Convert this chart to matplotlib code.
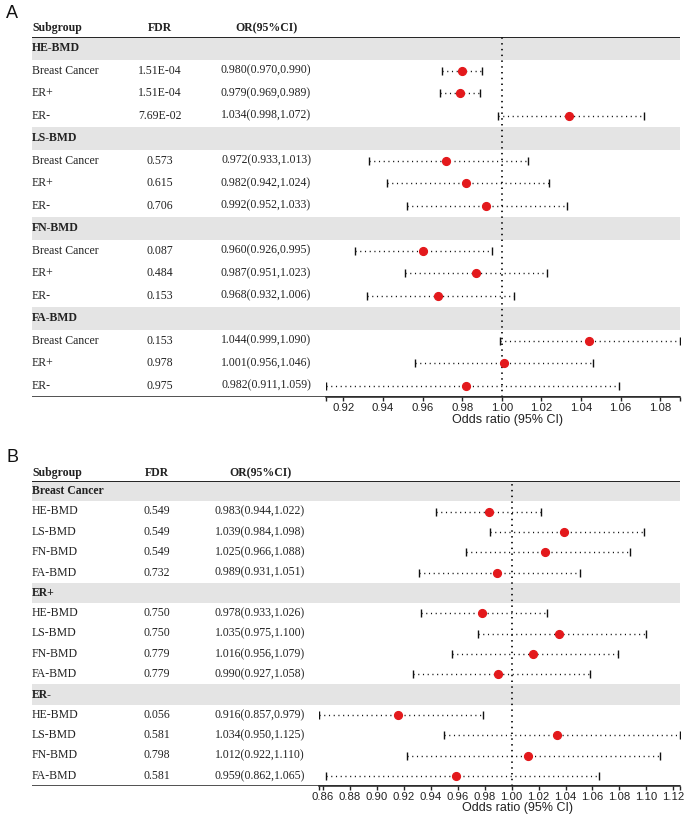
#!/usr/bin/env python3
import matplotlib

matplotlib.use("Agg")
import matplotlib.pyplot as plt
from matplotlib.transforms import blended_transform_factory

W, H = 685, 816

# panel A: BMD trait -> breast cancer subtype
groups_a = ["HE-BMD", "LS-BMD", "FN-BMD", "FA-BMD"]
subs_a = ["Breast Cancer", "ER+", "ER-"]
fdr_a = ["1.51E-04", "1.51E-04", "7.69E-02", "0.573", "0.615", "0.706",
         "0.087", "0.484", "0.153", "0.153", "0.978", "0.975"]
or_a = [0.980, 0.979, 1.034, 0.972, 0.982, 0.992, 0.960, 0.987, 0.968, 1.044, 1.001, 0.982]
lo_a = [0.970, 0.969, 0.998, 0.933, 0.942, 0.952, 0.926, 0.951, 0.932, 0.999, 0.956, 0.911]
hi_a = [0.990, 0.989, 1.072, 1.013, 1.024, 1.033, 0.995, 1.023, 1.006, 1.090, 1.046, 1.059]
ticks_a = [0.92, 0.94, 0.96, 0.98, 1.00, 1.02, 1.04, 1.06, 1.08]

# panel B: breast cancer subtype -> BMD trait
groups_b = ["Breast Cancer", "ER+", "ER-"]
subs_b = ["HE-BMD", "LS-BMD", "FN-BMD", "FA-BMD"]
fdr_b = ["0.549", "0.549", "0.549", "0.732", "0.750", "0.750", "0.779", "0.779",
         "0.056", "0.581", "0.798", "0.581"]
or_b = [0.983, 1.039, 1.025, 0.989, 0.978, 1.035, 1.016, 0.990, 0.916, 1.034, 1.012, 0.959]
lo_b = [0.944, 0.984, 0.966, 0.931, 0.933, 0.975, 0.956, 0.927, 0.857, 0.950, 0.922, 0.862]
hi_b = [1.022, 1.098, 1.088, 1.051, 1.026, 1.100, 1.079, 1.058, 0.979, 1.125, 1.110, 1.065]
ticks_b = [0.86, 0.88, 0.90, 0.92, 0.94, 0.96, 0.98, 1.00, 1.02, 1.04, 1.06, 1.08, 1.10, 1.12]

SERIF = ["Liberation Serif", "DejaVu Serif"]
SANS = ["Liberation Sans", "DejaVu Sans"]
DOT = (0, (0.8, 2.6))
RED = "#e3191c"
BAND = "#e4e4e4"


def fig_rect(x0, x1, top, bottom):
    return [x0 / W, 1 - bottom / H, (x1 - x0) / W, (bottom - top) / H]


def draw_panel(fig, letter, groups, subs, fdr, ors, los, his, ticks,
               top, bottom, plot_left, fdr_x, or_x, label_y):
    nrows = len(groups) * (len(subs) + 1)
    ax_t = fig.add_axes(fig_rect(32, 680, top, bottom))
    ax_t.set_xlim(32, 680)
    ax_t.set_ylim(nrows, 0)
    ax_t.axis("off")

    ax_f = fig.add_axes(fig_rect(plot_left, 680, top, bottom))
    ax_f.set_xlim(min(los), max(his))
    ax_f.set_ylim(nrows, 0)
    ax_f.patch.set_visible(False)
    for side in ("top", "right", "left"):
        ax_f.spines[side].set_visible(False)
    ax_f.spines["bottom"].set_linewidth(1.1)
    ax_f.spines["bottom"].set_color("#222222")
    ax_f.set_yticks([])

    tk = dict(fontsize=8.5, family=SERIF, color="#222222", va="center")
    hdr = dict(tk, fontweight="bold")
    head_y = -0.4
    ax_t.text(32, head_y, "Subgroup", ha="left", clip_on=False, **hdr)
    ax_t.text(fdr_x, head_y, "FDR", ha="center", clip_on=False, **hdr)
    ax_t.text(or_x, head_y, "OR(95%CI)", ha="center", clip_on=False, **hdr)
    ax_t.axhline(0, color="#222222", lw=1.4)
    ax_t.axhline(nrows, color="#222222", lw=1.1)

    row = 0
    k = 0
    ys = []
    for g in groups:
        ax_t.axhspan(row, row + 1, color=BAND, lw=0, zorder=0)
        ax_t.text(32, row + 0.5, g, ha="left", **hdr)
        row += 1
        for s in subs:
            y = row + 0.5
            ax_t.text(32, y, s, ha="left", **tk)
            ax_t.text(fdr_x, y, fdr[k], ha="center", **tk)
            ax_t.text(or_x, y, f"{ors[k]:.3f}({los[k]:.3f},{his[k]:.3f})", ha="center", **tk)
            ys.append(y)
            row += 1
            k += 1

    ax_f.axvline(1.0, color="#111111", lw=1.3, linestyle=(0, (0.8, 2.4)), zorder=1)
    for y, o, l, h in zip(ys, ors, los, his):
        ax_f.plot([l, h], [y, y], color="#111111", lw=1.0, linestyle=DOT, zorder=2)
        ax_f.plot([l, h], [y, y], linestyle="none", marker="|", markersize=5.5,
                  mew=1.0, color="#111111", zorder=2)
        ax_f.plot([o], [y], marker="o", markersize=5.6, color=RED, mec=RED, zorder=3)

    lims = list(ax_f.get_xlim())
    ax_f.set_xticks(ticks + lims)
    ax_f.set_xticklabels([f"{t:.2f}" for t in ticks] + ["", ""])
    ax_f.set_xlim(lims)
    ax_f.tick_params(axis="x", direction="out", length=3, width=1.0, pad=1.5,
                     labelsize=8.2, colors="#222222")
    for lab in ax_f.get_xticklabels():
        lab.set_family(SANS)

    tr = blended_transform_factory(ax_f.transData, fig.transFigure)
    ax_f.annotate("Odds ratio (95% CI)", xy=(1.0, 1 - label_y / H), xycoords=tr,
                  xytext=(4, 0), textcoords="offset points", ha="center", va="center",
                  fontsize=9, family=SANS, color="#222222")

    fig.text(6 / W, 1 - (top - 23) / H, letter, fontsize=13, family=SANS,
             ha="left", va="center", color="#111111")


fig = plt.figure(figsize=(W / 100, H / 100), dpi=100)

draw_panel(fig, "A", groups_a, subs_a, fdr_a, or_a, lo_a, hi_a, ticks_a,
           top=37, bottom=397, plot_left=325.5, fdr_x=160, or_x=266, label_y=420)
draw_panel(fig, "B", groups_b, subs_b, fdr_b, or_b, lo_b, hi_b, ticks_b,
           top=481, bottom=786, plot_left=319, fdr_x=157, or_x=260, label_y=808)

fig.savefig("out.png", dpi=100)
